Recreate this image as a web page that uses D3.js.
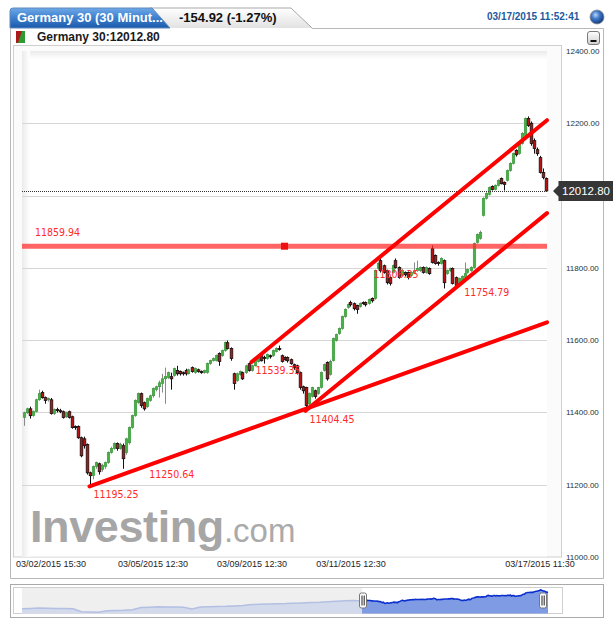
<!DOCTYPE html>
<html><head><meta charset="utf-8">
<script src="https://cdn.jsdelivr.net/npm/d3@7"></script>
<style>body{margin:0;background:#fff;} svg{display:block}</style>
</head><body><svg id="c" width="613" height="627"></svg>
<script>
// ---------------- DATA ----------------
const opens = [11386,11399,11410,11391,11402,11435,11455,11441,11435,11435,11397,11408,11405,11402,11388,11402,11388,11361,11361,11330,
11327,11311,11233,11225,11250,11258,11242,11250,11261,11289,11300,11314,11300,11308,11289,11316,11358,11391,11427,11452,
11427,11416,11433,11446,11463,11471,11480,11493,11496,11499,11502,11516,11513,11510,11516,11507,11524,11510,11518,11513,
11510,11510,11535,11543,11543,11563,11557,11571,11593,11577,11507,11488,11505,11510,11510,11535,11516,11529,11541,11557,
11552,11549,11557,11557,11568,11577,11557,11552,11552,11546,11532,11529,11510,11471,11469,11424,11444,11460,11452,11469,
11516,11538,11505,11543,11599,11618,11632,11665,11690,11704,11701,11696,11693,11704,11704,11701,11715,11715,11798,11820,
11806,11792,11773,11787,11820,11801,11779,11787,11787,11779,11787,11792,11792,11801,11787,11798,11853,11834,11815,11812,
11820,11784,11792,11798,11773,11759,11765,11773,11787,11792,11801,11870,11881,11945,11992,12003,12025,12017,12028,12047,
12036,12042,12069,12089,12125,12116,12144,12166,12213,12200,12152,12127,12105,12064,12047];
const highs = [11402,11413,11416,11405,11438,11463,11460,11444,11441,11440,11411,11413,11410,11405,11402,11405,11391,11364,11364,11333,
11333,11314,11236,11253,11264,11261,11258,11264,11292,11305,11317,11317,11316,11314,11330,11361,11394,11436,11455,11455,
11430,11441,11449,11469,11474,11488,11507,11524,11513,11510,11524,11529,11516,11513,11521,11521,11527,11524,11521,11516,
11518,11538,11546,11552,11560,11566,11574,11596,11599,11580,11510,11510,11516,11513,11532,11538,11532,11546,11552,11560,
11557,11563,11560,11574,11580,11585,11560,11555,11555,11549,11535,11532,11513,11474,11471,11455,11471,11463,11471,11513,
11535,11541,11546,11607,11618,11635,11668,11688,11701,11709,11704,11698,11704,11707,11707,11715,11718,11795,11815,11826,
11809,11795,11776,11809,11826,11804,11798,11790,11790,11790,11815,11820,11804,11804,11804,11801,11862,11837,11818,11829,
11823,11795,11801,11801,11776,11773,11779,11815,11798,11804,11870,11895,11903,11995,12009,12025,12028,12031,12045,12050,
12039,12072,12092,12119,12128,12147,12175,12216,12219,12205,12158,12133,12110,12075,12050];
const lows = [11363,11396,11383,11388,11400,11432,11438,11424,11430,11394,11393,11400,11398,11383,11385,11383,11355,11352,11327,11276,
11300,11228,11195.25,11215,11244,11228,11236,11244,11258,11286,11297,11294,11297,11244,11283,11311,11355,11388,11424,11413,
11405,11413,11430,11441,11458,11441,11455,11424,11493,11463,11499,11502,11502,11502,11502,11505,11510,11507,11510,11507,
11507,11507,11532,11541,11541,11529,11554,11568,11574,11543,11463,11485,11502,11490,11507,11513,11513,11527,11538,11541,
11535,11546,11549,11554,11566,11571,11538,11543,11538,11532,11518,11505,11463,11452,11404.45,11419,11441,11438,11449,11466,
11513,11488,11502,11541,11596,11615,11629,11662,11687,11693,11682,11673,11690,11698,11693,11698,11704,11712,11795,11787,
11784,11754,11751,11784,11798,11770,11776,11776,11768,11776,11784,11789,11789,11784,11784,11781,11812,11809,11806,11809,
11743,11781,11789,11754,11748,11757,11762,11770,11784,11789,11798,11867,11878,11942,11989,12000,12014,12014,12025,12031,
12014,12039,12066,12086,12108,12113,12141,12163,12190,12138,12116,12110,12061,12045,12010];
const closes = [11399,11410,11391,11402,11435,11452,11441,11433,11438,11397,11408,11405,11402,11386,11399,11386,11358,11358,11330,11280,
11308,11233,11225,11250,11261,11236,11253,11261,11289,11300,11314,11300,11311,11272,11327,11358,11391,11433,11452,11419,
11410,11438,11446,11466,11471,11482,11493,11499,11510,11493,11521,11507,11507,11507,11507,11518,11513,11521,11513,11510,
11516,11535,11543,11549,11557,11541,11571,11593,11577,11549,11480,11507,11513,11493,11529,11516,11529,11543,11549,11543,
11549,11560,11554,11571,11577,11574,11541,11546,11543,11535,11524,11510,11469,11460,11419,11452,11469,11444,11469,11510,
11532,11493,11541,11604,11615,11632,11665,11685,11698,11698,11687,11685,11701,11701,11698,11712,11709,11792,11812,11792,
11787,11759,11757,11806,11801,11773,11792,11781,11773,11787,11790,11798,11801,11787,11801,11784,11815,11812,11812,11826,
11759,11792,11798,11757,11751,11770,11776,11784,11795,11801,11867,11892,11898,11992,12006,12022,12017,12028,12042,12033,
12031,12069,12089,12116,12113,12144,12172,12213,12194,12144,12130,12116,12064,12050,12012.80];

// y tick labels (12000.00 is hidden behind the price tag in the reference)
const yTicks = [11000,11200,11400,11600,11800,12200,12400];
const gridLevels = [11200,11400,11600,11800,12000,12200];
const xTickIndex = [9,43,76,109,172];
const xTickLabels = ["03/02/2015 15:30","03/05/2015 12:30","03/09/2015 12:30","03/11/2015 12:30","03/17/2015 11:30"];

const levelValue = 11859.94;
const levelHandleIndex = 87;
// trend lines: [index1, price1, index2, price2] (extended to right edge)
const trendLines = [[22,11195.25,40.6,11250.64],[94,11404.45,145.55,11754.79],[76,11539.35,115.3,11806.35]];
const lastPrice = 12012.80;

const navHistory = [10831,10850,10880,10870,10860,10850,10835,10610,10590,10570,10680,10700,10720,10760,10930,10950,10975,10965,10960,10950,
10810,10955,10980,11000,11010,11040,11080,11140,11155,11180,11195,11210,11240,11260,11285,11310,11350,11380,11410,11430];

const titleTab = "Germany 30 (30 Minut...";
const changeText = "-154.92 (-1.27%)";
const timeText = "03/17/2015 11:52:41";
const symbolText = "Germany 30:12012.80";

// ---------------- DRAW ----------------
const svg = d3.select('#c');
const defs = svg.append('defs');
function lg(id, vertical, stops){
  const g = defs.append('linearGradient').attr('id', id)
    .attr('x1',0).attr('y1',0).attr('x2', vertical?0:1).attr('y2', vertical?1:0);
  stops.forEach(s => g.append('stop').attr('offset', s[0]).attr('stop-color', s[1]));
}
lg('bTab', true, [[0,'#6ea8e6'],[0.5,'#3d7fcf'],[1,'#1b5aab']]);
lg('gTab', true, [[0,'#ffffff'],[1,'#e2e2e2']]);
lg('shTop', true, [[0,'#ebebeb'],[1,'#ffffff']]);
lg('shLeft', false, [[0,'#ebebeb'],[1,'#ffffff']]);
lg('btnMin', true, [[0,'#ffffff'],[1,'#cfcfcf']]);
const rg = defs.append('radialGradient').attr('id','ball').attr('cx','40%').attr('cy','35%').attr('r','65%');
rg.append('stop').attr('offset',0).attr('stop-color','#b8d4f5');
rg.append('stop').attr('offset',0.45).attr('stop-color','#3f78c8');
rg.append('stop').attr('offset',1).attr('stop-color','#123a80');

const FONT = "'Liberation Sans', Arial, sans-serif";

// header tabs
svg.append('path').attr('d','M150,28 L150,8 L291,8 L312,28').attr('fill','url(#gTab)').attr('stroke','#a8a8a8');
svg.append('path').attr('d','M10,28 L10,11 Q10,8 13,8 L152,8 L170,28 Z').attr('fill','url(#bTab)').attr('stroke','#5f88bb');
svg.append('text').attr('x',17).attr('y',22).attr('font-family',FONT).attr('font-weight','bold').attr('font-size',13)
  .attr('fill','#fff').text(titleTab);
svg.append('text').attr('x',179).attr('y',22).attr('font-family',FONT).attr('font-weight','bold').attr('font-size',13)
  .attr('fill','#111').text(changeText);
svg.append('text').attr('x',487).attr('y',20).attr('font-family',FONT).attr('font-weight','bold').attr('font-size',10)
  .attr('fill','#1d5aa0').text(timeText);
svg.append('circle').attr('cx',597).attr('cy',17).attr('r',7).attr('fill','url(#ball)').attr('stroke','#8a8a8a').attr('stroke-width',0.8);

// outer panel
svg.append('path').attr('d','M312,28.5 L603.5,28.5 L603.5,578.5 L10.5,578.5 L10.5,28').attr('fill','none').attr('stroke','#b8b8b8');
// symbol row
const ic = svg.append('g');
ic.append('rect').attr('x',16).attr('y',31).attr('width',9).attr('height',12).attr('fill','#a81c1c');
ic.append('path').attr('d','M22,31 L25,31 L25,43 L18,43 Z').attr('fill','#2f9a2f');
svg.append('text').attr('x',37).attr('y',41).attr('font-family',FONT).attr('font-weight','bold').attr('font-size',12)
  .attr('fill','#1a1a1a').text(symbolText);
svg.append('rect').attr('x',587.5).attr('y',31.5).attr('width',12).attr('height',13).attr('rx',2.5)
  .attr('fill','url(#btnMin)').attr('stroke','#7a7a7a');
svg.append('rect').attr('x',590.5).attr('y',40).attr('width',6).attr('height',2).attr('fill','#111');

// chart box
svg.append('rect').attr('x',13.5).attr('y',45.5).attr('width',548).attr('height',511.5).attr('fill','#fbfbfb').attr('stroke','#cfcfcf');

const x = d3.scaleLinear().domain([-0.5, 174.5]).range([22, 547]);
const y = d3.scaleLinear().domain([11000, 12400]).range([557, 51]);
const L = x.range()[0], R = x.range()[1];

// plot bg with soft edge shading
svg.append('rect').attr('x',L).attr('y',51).attr('width',R-L).attr('height',505.5).attr('fill','#fff');
svg.append('rect').attr('x',L).attr('y',51).attr('width',R-L).attr('height',8).attr('fill','url(#shTop)');
svg.append('rect').attr('x',L).attr('y',51).attr('width',8).attr('height',505.5).attr('fill','url(#shLeft)');

// grid
svg.append('g').selectAll('line').data(gridLevels).join('line')
  .attr('x1',L).attr('x2',R).attr('y1',d=>Math.round(y(d))+0.5).attr('y2',d=>Math.round(y(d))+0.5)
  .attr('stroke','#d6d6d6');

// watermark
const wm = svg.append('text').attr('x',30).attr('y',542).attr('font-family',FONT);
wm.append('tspan').attr('font-weight','bold').attr('font-size',45).attr('fill','#a6a6a6').attr('letter-spacing',-0.4).text('Investing');
wm.append('tspan').attr('font-size',33).attr('fill','#aaaaaa').text('.com');

// y axis
const yAxis = svg.append('g').attr('transform','translate(566,0)')
  .call(d3.axisRight(y).tickValues(yTicks).tickFormat(d3.format('.2f')).tickSize(0).tickPadding(0));
yAxis.select('.domain').remove();
yAxis.selectAll('text').attr('font-family',FONT).attr('font-size',8).attr('fill','#24323a');

// x axis
const xAxis = svg.append('g').attr('transform','translate(0,557)')
  .call(d3.axisBottom(x).tickValues(xTickIndex).tickFormat((d,i)=>xTickLabels[i]).tickSize(0).tickPadding(4));
xAxis.select('.domain').remove();
xAxis.selectAll('text').attr('font-family',FONT).attr('font-size',9).attr('fill','#1e1e1e');

const idx = d3.range(closes.length);

// candles
const bw = 2.6;
const cg = svg.append('g');
cg.selectAll('line').data(idx).join('line')
  .attr('x1',i=>Math.round(x(i))+0.5).attr('x2',i=>Math.round(x(i))+0.5)
  .attr('y1',i=>y(highs[i])).attr('y2',i=>y(lows[i]))
  .attr('stroke',i=>closes[i]>opens[i]?'#8a8a8a':'#111').attr('stroke-width',1);
cg.selectAll('rect').data(idx).join('rect')
  .attr('x',i=>Math.round(x(i))+0.5-bw/2).attr('width',bw)
  .attr('y',i=>y(Math.max(opens[i],closes[i])))
  .attr('height',i=>Math.max(1,Math.abs(y(opens[i])-y(closes[i]))))
  .attr('fill',i=>closes[i]>opens[i]?'#49b049':(closes[i]<opens[i]?'#b31414':'#111'))
  .attr('stroke',i=>closes[i]>opens[i]?'#2f8f2f':'#111')
  .attr('stroke-width',i=>closes[i]>opens[i]?0.5:0.8);

// last price dotted line
svg.append('line').attr('x1',L).attr('x2',R).attr('y1',Math.round(y(lastPrice))+0.5).attr('y2',Math.round(y(lastPrice))+0.5)
  .attr('stroke','#333').attr('stroke-dasharray','1,1');

// horizontal level
svg.append('line').attr('x1',L).attr('x2',R).attr('y1',y(levelValue)).attr('y2',y(levelValue))
  .attr('stroke','#ff2a2a').attr('stroke-opacity',0.72).attr('stroke-width',5);
svg.append('rect').attr('x',x(levelHandleIndex)-3.5).attr('y',y(levelValue)-3.5).attr('width',7).attr('height',7).attr('fill','#ee1111');
svg.append('text').attr('x',35).attr('y',y(levelValue)-10).attr('font-family',"'DejaVu Sans Condensed','DejaVu Sans',sans-serif")
  .attr('font-size',10.5).attr('fill','#ff2a2a').text(levelValue.toFixed(2));

// trend lines
const tg = svg.append('g');
trendLines.forEach(t => {
  const [i1,p1,i2,p2] = t;
  const slope = (p2-p1)/(i2-i1);
  const iEnd = x.domain()[1];
  const pEnd = p1 + slope*(iEnd-i1);
  tg.append('line').attr('x1',x(i1)).attr('y1',y(p1)).attr('x2',x(iEnd)).attr('y2',y(pEnd))
    .attr('stroke','#ff0000').attr('stroke-width',4).attr('stroke-linecap','round');
});
trendLines.forEach(t => {
  [[t[0],t[1]],[t[2],t[3]]].forEach(p => {
    tg.append('text').attr('x',x(p[0])+4).attr('y',y(p[1])+12)
      .attr('font-family',"'DejaVu Sans Condensed','DejaVu Sans',sans-serif").attr('font-size',10.5)
      .attr('fill','#ff2a2a').text(p[1].toFixed(2));
  });
});

// price tag
const ty = y(lastPrice);
svg.append('path').attr('d',`M553,${ty} L558.5,${ty-5.5} L558.5,${ty-10} L613,${ty-10} L613,${ty+10} L558.5,${ty+10} L558.5,${ty+5.5} Z`)
  .attr('fill','#363636');
svg.append('text').attr('x',562).attr('y',ty+4).attr('font-family',FONT).attr('font-size',11.5).attr('fill','#fff')
  .text(lastPrice.toFixed(2));

// ---------------- NAVIGATOR ----------------
svg.append('rect').attr('x',10.5).attr('y',584.5).attr('width',593).attr('height',33).attr('fill','#fff').attr('stroke','#a9a9a9');
svg.append('rect').attr('x',13.5).attr('y',587.5).attr('width',549).attr('height',26).attr('fill','#fff').attr('stroke','#cfcfcf');
const nx = d3.scaleLinear().domain([-navHistory.length, 0, closes.length-1]).range([22, 362, 548]);
const ny = d3.scaleLinear().domain([10450, 12350]).range([614, 588]);
svg.append('rect').attr('x',22).attr('y',588).attr('width',nx(0)-22).attr('height',25.5).attr('fill','#efefef');
const histPts = navHistory.map((v,k)=>[k-navHistory.length, v]).concat([[0, closes[0]]]);
const visPts = closes.map((v,i)=>[i,v]);
const area = d3.area().x(d=>nx(d[0])).y0(613.5).y1(d=>ny(d[1]));
const line = d3.line().x(d=>nx(d[0])).y(d=>ny(d[1]));
svg.append('path').attr('d',area(histPts)).attr('fill','#d3daeb');
svg.append('path').attr('d',line(histPts)).attr('fill','none').attr('stroke','#b3bfe3').attr('stroke-width',1.5);
svg.append('path').attr('d',area(visPts)).attr('fill','#7f9be4');
svg.append('path').attr('d',line(visPts)).attr('fill','none').attr('stroke','#0b2fcf').attr('stroke-width',1.6);
[nx(0)+1, nx(closes.length-1)-5].forEach(hx => {
  svg.append('rect').attr('x',hx-3.5).attr('y',593).attr('width',7).attr('height',15).attr('rx',2)
    .attr('fill','#fff').attr('stroke','#777');
  svg.append('line').attr('x1',hx-1).attr('x2',hx-1).attr('y1',595.5).attr('y2',605.5).attr('stroke','#222');
  svg.append('line').attr('x1',hx+1.2).attr('x2',hx+1.2).attr('y1',595.5).attr('y2',605.5).attr('stroke','#222');
});
</script></body></html>
